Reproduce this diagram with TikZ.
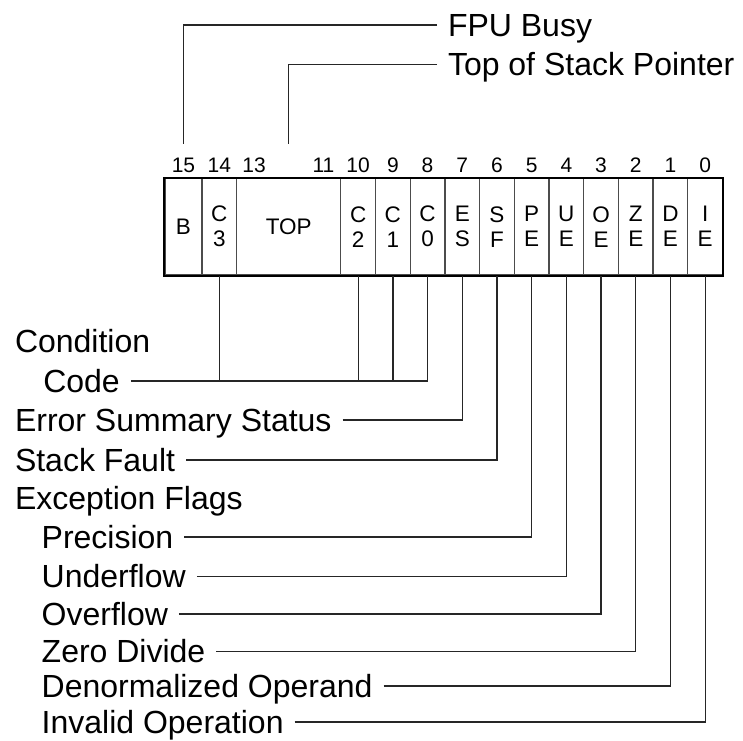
\documentclass[tikz,border=0pt]{standalone}
\usepackage{fontspec}
\setmainfont{Liberation Sans}
\usepackage{tikz}

\tikzset{
  cell/.style={draw=black!70, line width=1.3pt, minimum height=96.7pt, minimum width=34.7pt,
    inner sep=0pt, align=center, font=\fontsize{22.5}{25}\selectfont},
  bitnum/.style={inner sep=0pt, outer ysep=14pt, text height=15pt, text depth=0pt,
    font=\fontsize{21}{21}\selectfont},
  lab/.style={anchor=west, inner sep=0pt, outer xsep=11pt, text height=22.9pt, text depth=0pt,
    font=\fontsize{32}{36}\selectfont},
  lead/.style={line width=1.3pt, black!85}
}

\begin{document}
\begin{tikzpicture}[x=1pt,y=-1pt]
          \useasboundingbox (0,0) rectangle (743,740);

          % status word cells
          \node[cell, minimum width=37pt] (b) at (183.5,226.7) {B};
          \node[cell] (c3) at (219.35,226.7) {C\\3};
          \node[cell, minimum width=104.1pt] (top) at (288.75,226.7) {TOP};
          \node[cell] (c2) at (358.15,226.7) {C\\2};
          \node[cell] (c1) at (392.85,226.7) {C\\1};
          \node[cell] (c0) at (427.55,226.7) {C\\0};
          \node[cell] (es) at (462.25,226.7) {E\\S};
          \node[cell] (sf) at (496.95,226.7) {S\\F};
          \node[cell] (pe) at (531.65,226.7) {P\\E};
          \node[cell] (ue) at (566.35,226.7) {U\\E};
          \node[cell] (oe) at (601.05,226.7) {O\\E};
          \node[cell] (ze) at (635.75,226.7) {Z\\E};
          \node[cell] (de) at (670.45,226.7) {D\\E};
          \node[cell] (ie) at (705.15,226.7) {I\\E};
          \draw[line width=1.8pt] (b.north west) rectangle (ie.south east);

          % bit numbers
          \node[bitnum] (n15) at (183.5,165) {15};
          \node[bitnum] (n14) at (219.35,165) {14};
          \node[bitnum] (n13) at (254.05,165) {13};
          \node[bitnum] (n11) at (323.45,165) {11};
          \node[bitnum] (n10) at (358.15,165) {10};
          \node[bitnum] (n9) at (392.85,165) {9};
          \node[bitnum] (n8) at (427.55,165) {8};
          \node[bitnum] (n7) at (462.25,165) {7};
          \node[bitnum] (n6) at (496.95,165) {6};
          \node[bitnum] (n5) at (531.65,165) {5};
          \node[bitnum] (n4) at (566.35,165) {4};
          \node[bitnum] (n3) at (601.05,165) {3};
          \node[bitnum] (n2) at (635.75,165) {2};
          \node[bitnum] (n1) at (670.45,165) {1};
          \node[bitnum] (n0) at (705.15,165) {0};

          % labels above
          \node[lab] (busy) at (437,25) {FPU Busy};
          \node[lab] (tos) at (437,64.3) {Top of Stack Pointer};
          \draw[lead] (busy.west) -| (n15.north);
          \draw[lead] (tos.west) -| (top.north |- n15.north);

          % labels below
          \node[lab] (cond) at (4,341) {Condition};
          \node[lab] (code) at (32.3,381) {Code};
          \node[lab] (ess) at (4,420) {Error Summary Status};
          \node[lab] (stackflt) at (4,460) {Stack Fault};
          \node[lab] (excflags) at (4,498.5) {Exception Flags};
          \node[lab] (prec) at (30.7,537) {Precision};
          \node[lab] (under) at (30.7,576.5) {Underflow};
          \node[lab] (over) at (30.7,614) {Overflow};
          \node[lab] (zdiv) at (30.7,651.5) {Zero Divide};
          \node[lab] (denorm) at (30.7,686) {Denormalized Operand};
          \node[lab] (invop) at (30.7,722) {Invalid Operation};

          % condition code
          \draw[lead] (code.east) -| (c0.south);
          \draw[lead] (c3.south) -- (c3.south |- code.east);
          \draw[lead] (c2.south) -- (c2.south |- code.east);
          \draw[lead] (c1.south) -- (c1.south |- code.east);

          % status and exception flags
          \draw[lead] (ess.east) -| (es.south);
          \draw[lead] (stackflt.east) -| (sf.south);
          \draw[lead] (prec.east) -| (pe.south);
          \draw[lead] (under.east) -| (ue.south);
          \draw[lead] (over.east) -| (oe.south);
          \draw[lead] (zdiv.east) -| (ze.south);
          \draw[lead] (denorm.east) -| (de.south);
          \draw[lead] (invop.east) -| (ie.south);
        \end{tikzpicture}
\end{document}
